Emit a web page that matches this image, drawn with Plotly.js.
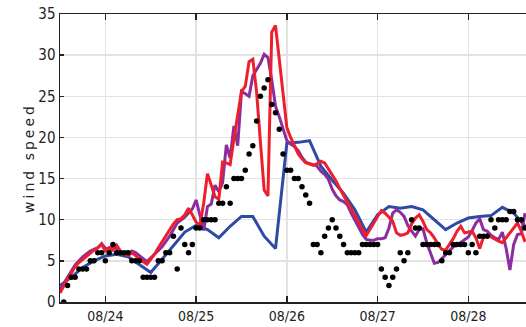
<!DOCTYPE html>
<html><head><meta charset="utf-8">
<script src="https://cdn.plot.ly/plotly-3.0.1.min.js"></script>
<style>
html,body{margin:0;padding:0;background:#fff;overflow:hidden;}
#chart{width:526px;height:327px;}
.ytitle{letter-spacing:3px;}
</style></head>
<body><div id="chart"></div>
<script>
// time origin: 08/23 12:00 ; all times below are hours after it
const BASE = Date.UTC(2017, 7, 23, 12, 0, 0);

const obsHours = [1,2,3,4,5,6,7,8,9,10,11,12,13,14,15,16,17,18,19,20,21,22,23,24,25,26,27,28,29,30,31,32,33,34,35,36,37,38,39,40,41,42,43,44,45,46,47,48,49,50,51,52,53,54,55,56,57,58,59,60,61,62,63,64,65,66,67,68,69,70,71,72,73,74,75,76,77,78,79,80,81,82,83,84,85,86,87,88,89,90,91,92,93,94,95,96,97,98,99,100,101,102,103,104,105,106,107,108,109,110,111,112,113,114,115,116,117,118,119,120,121,122,123];
const obsSpeed = [0,2,3,3,4,4,4,5,5,6,6,5,6,7,6,6,6,6,5,5,5,3,3,3,3,5,5,6,6,8,4,9,7,6,7,9,9,10,10,10,10,12,12,14,12,15,15,15,16,18,19,22,25,26,27,24,23,21,18,16,16,15,15,14,13,12,7,7,6,8,9,10,9,8,7,6,6,6,6,7,7,7,7,7,4,3,2,3,4,6,5,6,10,9,9,7,7,7,7,7,5,6,6,7,7,7,7,6,7,6,8,8,8,10,9,10,10,10,11,11,10,10,9];

const blueHours = [0,3,6,9,12,15,18,21,24,27,30,33,36,39,42,45,48,51,54,57,60,63,66,69,72,75,78,81,84,87,90,93,96,99,102,105,108,111,114,117,120,123,126];
const blueSpeed = [2.0,3.0,4.2,5.0,5.6,5.8,5.5,4.5,3.6,5.2,6.8,8.5,9.3,8.8,7.8,9.2,10.4,10.4,8.0,6.5,19.3,19.4,19.6,16.5,14.8,13.2,11.2,8.5,10.6,11.6,11.4,11.6,11.2,10.0,8.8,9.6,10.2,10.4,10.5,11.5,10.8,9.2,8.0];

const purpleHours = [0,2,4,6,8,10,11,12,13,14,15,16,17,18,19,20,21,23,25,27,29,31,33,35,36,37,38,39,40,41,42,43,44,45,46,47,48,49,50,51,52,53,54,55,56,57,58,59,60,61,62,63,64,65,66,67,68,69,70,71,72,73,74,75,76,77,78,79,80,81,82,83,84,85,86,87,88,89,90,91,92,93,94,95,96,97,98,99,100,101,102,103,104,105,106,107,108,109,110,111,112,113,114,115,116,117,118,119,120,121,122,123];
const purpleSpeed = [1.5,3.0,4.5,5.5,6.2,6.6,7.1,6.5,6.5,6.8,6.5,6.2,5.8,5.8,6.2,6.0,5.6,4.9,5.8,6.7,8.0,9.6,10.3,11.3,12.4,10.5,8.7,11.6,11.9,14.2,13.4,14.5,19.1,17.5,21.4,19.0,25.6,25.3,25.0,27.5,28.2,29.0,30.1,29.7,27.0,23.8,22.5,21.0,19.6,19.2,18.9,18.4,17.6,17.0,16.8,16.7,16.5,15.9,15.5,14.9,13.7,12.9,12.4,12.2,11.8,10.8,9.9,9.0,8.2,7.6,7.5,7.5,7.7,7.7,7.8,9.0,10.8,11.2,10.9,10.4,9.3,8.6,8.0,8.8,8.9,7.2,5.9,4.7,4.8,5.3,5.8,6.2,6.7,6.9,7.2,7.6,7.9,8.7,9.6,10.1,8.8,8.6,8.1,7.8,7.6,8.5,6.5,3.9,7.0,8.2,8.3,10.8];

const redHours = [0,1,2,3,4,5,6,7,8,9,10,11,12,13,14,15,16,17,18,19,20,21,22,23,24,25,26,27,28,29,30,31,32,33,34,35,36,37,38,39,40,41,42,43,44,45,46,47,48,49,50,51,52,53,54,55,56,57,58,59,60,61,62,63,64,65,66,67,68,69,70,71,72,73,74,75,76,77,78,79,80,81,82,83,84,85,86,87,88,89,90,91,92,93,94,95,96,97,98,99,100,101,102,103,104,105,106,107,108,109,110,111,112,113,114,115,116,117,118,119,120,121,122,123];
const redSpeed = [1.1,2.0,2.8,3.5,4.3,4.8,5.2,5.6,5.9,6.3,6.6,7.0,6.2,6.6,6.3,6.9,6.2,5.9,5.6,6.0,5.6,5.3,4.9,4.6,5.2,5.8,6.6,7.3,8.0,8.7,9.5,10.0,10.1,10.6,11.4,10.6,9.7,9.3,12.0,15.6,14.3,12.8,12.5,17.0,16.9,16.7,19.8,22.5,25.6,26.2,29.2,29.5,25.5,19.5,13.6,12.9,32.8,33.6,29.7,25.2,21.2,20.0,18.9,18.0,17.4,16.9,16.8,16.6,16.8,17.1,16.9,16.2,15.4,14.7,13.8,12.9,12.2,11.3,10.5,9.6,8.8,8.1,8.8,9.6,10.4,11.1,10.8,10.3,9.8,8.4,8.1,8.2,8.4,9.5,10.2,10.6,9.8,8.8,8.4,7.8,7.0,6.4,6.3,7.0,7.7,8.6,9.2,8.4,8.5,8.6,7.8,6.5,7.9,8.2,7.9,7.6,7.4,7.2,7.8,8.4,9.0,9.6,8.6,7.3];

const yTicks = [0,5,10,15,20,25,30,35];

function toX(hours){ return hours.map(h => BASE + h*3600000); }

const traces = [
  {x: toX(blueHours), y: blueSpeed, type:'scatter', mode:'lines', line:{color:'#2c4aa6', width:3}, hoverinfo:'skip'},
  {x: toX(purpleHours), y: purpleSpeed, type:'scatter', mode:'lines', line:{color:'#8b2d9e', width:3}, hoverinfo:'skip'},
  {x: toX(redHours), y: redSpeed, type:'scatter', mode:'lines', line:{color:'#ee1f2d', width:3}, hoverinfo:'skip'},
  {x: toX(obsHours), y: obsSpeed, type:'scatter', mode:'markers', marker:{color:'#000', size:5.5}, hoverinfo:'skip'}
];

const yFont = {family:'"Liberation Sans Narrow", "DejaVu Sans Condensed", sans-serif', size:15, color:'#222'};
const xFont = {family:'"Liberation Sans Narrow", "DejaVu Sans Condensed", sans-serif', size:14, color:'#222'};

const layout = {
  width:526, height:327,
  margin:{l:60, r:0, t:14, b:25},
  paper_bgcolor:'#fff', plot_bgcolor:'#fff',
  showlegend:false,
  xaxis:{
    type:'date',
    range:['2017-08-23 12:00', '2017-08-28 15:15'],
    tick0:'2017-08-24', dtick:86400000, tickformat:'%m/%d',
    ticks:'inside', ticklen:6, tickwidth:1.5, tickcolor:'#222',
    showline:true, linecolor:'#222', linewidth:1.5, mirror:'allticks',
    showgrid:true, gridcolor:'#e2e2e2', gridwidth:1.5,
    zeroline:false, tickfont:xFont, automargin:false, ticklabelstandoff:1
  },
  yaxis:{
    range:[0,35], tickvals:yTicks, ticktext:yTicks.map(String),
    ticks:'inside', ticklen:4, tickwidth:1.5, tickcolor:'#222',
    showline:true, linecolor:'#222', linewidth:1.5, mirror:false,
    showgrid:true, gridcolor:'#e2e2e2', gridwidth:1.5,
    zeroline:false, tickfont:yFont, automargin:false,
    title:{text:'wind speed', font:{family:'"DejaVu Sans", sans-serif', size:14, color:'#222'}, standoff:0}
  }
};

Plotly.newPlot('chart', traces, layout, {staticPlot:true, displayModeBar:false});
</script>
</body></html>
